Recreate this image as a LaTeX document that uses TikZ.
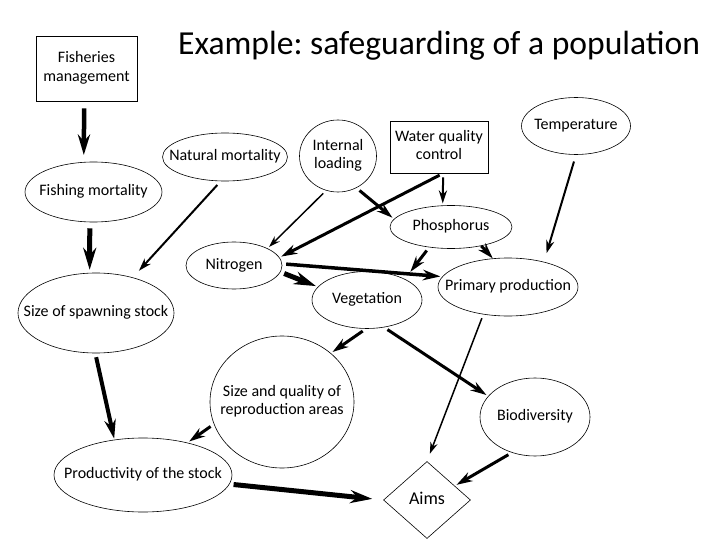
\documentclass[tikz,border=0pt]{standalone}
\usepackage{fontspec}
\setmainfont{Carlito}
\frenchspacing
\usetikzlibrary{shapes.geometric, arrows.meta}
\newcommand{\nodetxt}[1]{\makebox[0pt]{\begin{tabular}{@{}c@{}}#1\end{tabular}}}
\tikzset{
  factor/.style={ellipse, inner sep=0pt, draw=black, line width=0.6pt, font=\fontsize{16}{18.5}\selectfont},
  measure/.style={rectangle, inner sep=0pt, draw=black, line width=0.6pt, font=\fontsize{16}{18.5}\selectfont},
  goal/.style={diamond, inner sep=0pt, draw=black, line width=0.6pt, font=\fontsize{18}{20}\selectfont},
  arrow/.style={line width=2pt, -{Stealth[length=7pt 3, width=5pt 1.6]}, shorten <=4pt, shorten >=2pt},
  slimarrow/.style={arrow, line width=1.5pt},
  boldarrow/.style={arrow, line width=3pt},
  heavyarrow/.style={arrow, line width=4.5pt}
}

\begin{document}
\begin{tikzpicture}[x=1pt, y=-1pt]
  \useasboundingbox (0,0) rectangle (720,540);

  \node (title) [anchor=base west, inner sep=0pt, font=\fontsize{33.6}{36}\selectfont] at (178,55) {Example: safeguarding of a population};

  \node (mgmt) [measure, minimum width=101pt, minimum height=65pt] at (86.5,68.5) {\nodetxt{Fisheries\\management}};
  \node (fishmort) [factor, minimum width=137pt, minimum height=60pt] at (93.5,192) {\nodetxt{Fishing mortality}};
  \node (natmort) [factor, minimum width=125pt, minimum height=48pt] at (225,157) {\nodetxt{Natural mortality}};
  \node (internal) [factor, minimum width=77pt, minimum height=72pt] at (338,156) {\nodetxt{Internal\\loading}};
  \node (water) [measure, minimum width=98pt, minimum height=52pt] at (439,147) {\nodetxt{Water quality\\control}};
  \node (temp) [factor, minimum width=109pt, minimum height=57pt] at (576,126) {\nodetxt{Temperature}};
  \node (phos) [factor, minimum width=122pt, minimum height=43pt] at (451,227) {\nodetxt{Phosphorus}};
  \node (nitro) [factor, minimum width=96pt, minimum height=47pt] at (234,265.5) {\nodetxt{Nitrogen}};
  \node (veg) [factor, minimum width=110pt, minimum height=57pt] at (367,300) {\nodetxt{Vegetation}};
  \node (prim) [factor, minimum width=140pt, minimum height=58pt] at (508,287) {\nodetxt{Primary production}};
  \node (spawn) [factor, minimum width=156pt, minimum height=80pt] at (96,313) {\nodetxt{Size of spawning stock}};
  \node (repro) [factor, minimum width=144pt, minimum height=132pt] at (282,402) {\nodetxt{Size and quality of\\reproduction areas}};
  \node (bio) [factor, minimum width=110pt, minimum height=78pt] at (535,417) {\nodetxt{Biodiversity}};
  \node (prod) [factor, minimum width=178pt, minimum height=74pt] at (143,475) {\nodetxt{Productivity of the stock}};
  \node (aims) [goal, minimum width=87pt, minimum height=77pt] at (427,500) {\nodetxt{Aims}};

  % fish side
  \draw [heavyarrow, shorten <=7pt, shorten >=7pt] (mgmt.266) -- (fishmort.108);
  \draw [heavyarrow, line width=5pt, shorten <=6pt, shorten >=3pt] (fishmort.263) -- (spawn.99);
  \draw [arrow, shorten <=5pt, shorten >=9pt] (natmort.260) -- (spawn.44);
  \draw [heavyarrow, line width=4pt, shorten >=1pt] (spawn.269) -- (prod.129);
  \draw [boldarrow] (repro.198) -- (prod.36);
  \draw [heavyarrow, line width=5pt, shorten >=11pt] (prod.354) -- (aims.west);

  % nutrients
  \draw [slimarrow] (internal.251) -- (nitro.27);
  \draw [boldarrow] (internal.300) -- (phos.172);
  \draw [boldarrow] (water.279) -- (nitro.10);
  \draw [arrow] (water.279) -- (phos.111);
  \draw [arrow, shorten <=7pt, shorten >=9pt] (temp.270) -- (prim.35);
  \draw [boldarrow, shorten >=9pt] (phos.223) -- (veg.29);
  \draw [boldarrow, shorten <=0pt, shorten >=0pt] (phos.328) -- (prim.118);
  \draw [boldarrow, line width=3.5pt] (nitro.2) -- (prim.171);
  \draw [heavyarrow, line width=5pt] (nitro.352) -- (veg.165);

  % habitat and aims
  \draw [boldarrow] (veg.268) -- (repro.45);
  \draw [boldarrow] (veg.302) -- (bio.156);
  \draw [slimarrow, shorten >=8pt] (prim.228) -- (aims.north);
  \draw [boldarrow] (bio.237) -- (aims.27);

\end{tikzpicture}
\end{document}
